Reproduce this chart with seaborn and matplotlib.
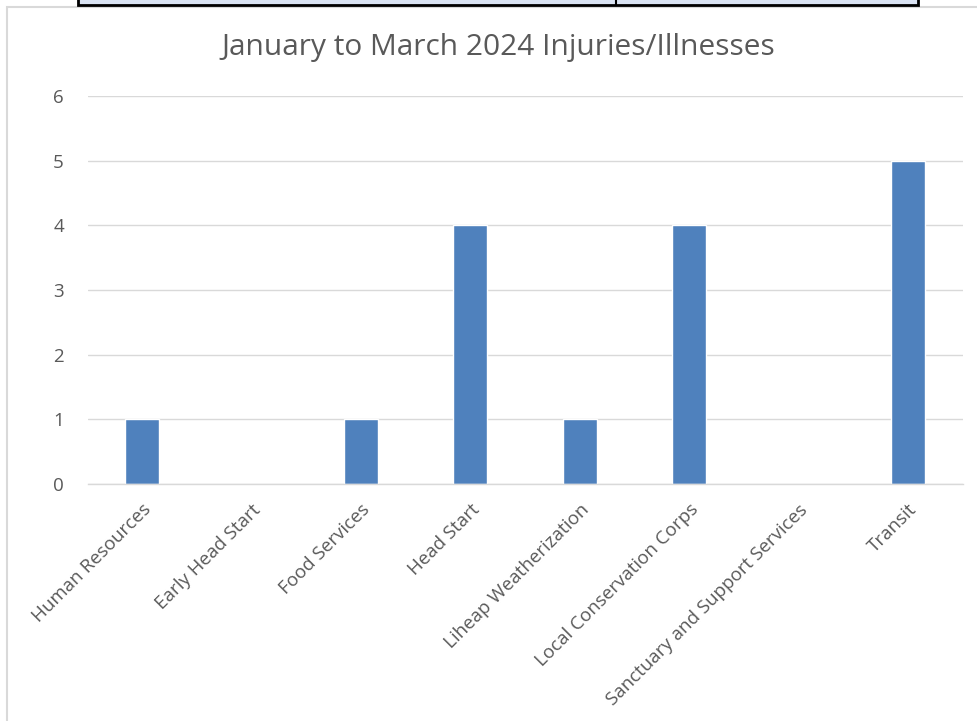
import matplotlib
matplotlib.use('Agg')
import matplotlib.pyplot as plt
from matplotlib.patches import Rectangle
from matplotlib.lines import Line2D
import pandas as pd
import seaborn as sns

departments = ['Human Resources', 'Early Head Start', 'Food Services', 'Head Start',
               'Liheap Weatherization', 'Local Conservation Corps',
               'Sanctuary and Support Services', 'Transit']
injuries = [1, 0, 1, 4, 1, 4, 0, 5]
y_ticks = [0, 1, 2, 3, 4, 5, 6]
title = 'January to March 2024 Injuries/Illnesses'

W, H = 977, 721
sns.set_style('white')
plt.rcParams['font.family'] = ['Open Sans', 'DejaVu Sans']

fig = plt.figure(figsize=(W / 100, H / 100), dpi=100)

# chart frame (light gray border of the embedded chart)
fig.patches.append(Rectangle((7 / W, -0.05), 1.1, (H - 7) / H + 0.05,
                             transform=fig.transFigure, fill=False,
                             edgecolor='#d9d9d9', linewidth=1.5))
# piece of the table above the chart
fig.patches.append(Rectangle((78 / W, (H - 5) / H), (918 - 78) / W, 0.05,
                             transform=fig.transFigure, facecolor='#dae3f3',
                             edgecolor='black', linewidth=2))
fig.lines.append(Line2D([616 / W, 616 / W], [(H - 5) / H, 1.0],
                        transform=fig.transFigure, color='black', linewidth=1.5))

left, right = 87.5, 962.5
top, bottom = 96, 484
ax = fig.add_axes([left / W, (H - bottom) / H, (right - left) / W, (bottom - top) / H])

df = pd.DataFrame({'dept': departments, 'count': injuries})
sns.barplot(data=df, x='dept', y='count', color='#4f81bd', saturation=1,
            width=0.31, ax=ax)

ax.set_ylim(0, 6)
ax.set_xlim(-0.5, len(departments) - 0.5)
ax.set_yticks(y_ticks)
ax.yaxis.grid(True, color='#d9d9d9', linewidth=1)
ax.set_axisbelow(True)
for s in ['top', 'right', 'left']:
    ax.spines[s].set_visible(False)
ax.spines['bottom'].set_color('#d9d9d9')
ax.spines['bottom'].set_linewidth(1)
ax.tick_params(axis='both', length=0, colors='#595959', labelsize=13.5)
ax.tick_params(axis='y', pad=17)
ax.tick_params(axis='x', pad=12)
plt.setp(ax.get_xticklabels(), rotation=45, ha='right', rotation_mode='anchor')
ax.set_xlabel('')
ax.set_ylabel('')

fig.text(498 / W, (H - 47) / H, title, ha='center', va='center',
         fontsize=21.5, color='#595959')

fig.savefig('out.png', dpi=100)
